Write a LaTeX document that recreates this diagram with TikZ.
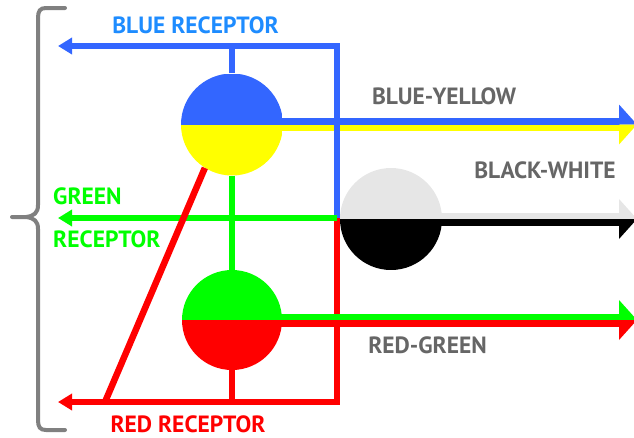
\documentclass[tikz,border=0pt]{standalone}
\usepackage{fontspec}
\setmainfont{PT Sans}
\usetikzlibrary{arrows.meta}
\definecolor{cblue}{RGB}{51,102,255}
\definecolor{tblue}{RGB}{30,140,255}
\definecolor{cgreen}{RGB}{0,255,0}
\definecolor{cred}{RGB}{255,0,0}
\definecolor{cyellow}{RGB}{255,255,0}
\definecolor{tgray}{RGB}{102,102,102}
\definecolor{lgray}{RGB}{230,230,230}
\definecolor{bgray}{RGB}{128,128,128}
\begin{document}
\begin{tikzpicture}[x=1pt,y=-1pt,
  wire/.style={line width=6.5pt},
  lefttip/.style={-{Triangle[length=14pt,width=16pt]}},
  halfdisc/.style n args={3}{circle, inner sep=0pt, minimum size=#3,
    path picture={
      \fill[#1] (path picture bounding box.north west) rectangle (path picture bounding box.east);
      \fill[#2] (path picture bounding box.west) rectangle (path picture bounding box.south east);}},
  lab/.style={font=\bfseries\fontsize{23.5}{23.5}\selectfont, inner sep=0pt},
  brace/.style={line width=4pt, bgray, line cap=round}]
\useasboundingbox (0,0) rectangle (634,437);
\clip (0,0) rectangle (634,437);

% key coordinates
\coordinate (bTL) at (58,46);
\coordinate (bTR) at (337,46);
\coordinate (gR) at (337,218);
\coordinate (gL) at (58,218);
\coordinate (rR) at (337,402);
\coordinate (rL) at (58,402);
\coordinate (dS) at (105,402);
\coordinate (byE) at (620,124.5);
\coordinate (bwE) at (620,219);
\coordinate (rgE) at (620,320);

% circle positions
\path (232,124.5) coordinate (BYc) (232,320) coordinate (RGc) (391,219) coordinate (BWc);

% blue-yellow outputs
\draw[wire,cblue] ([yshift=3.25pt]BYc) -- ([yshift=3.25pt]byE);
\draw[wire,cyellow] ([yshift=-3.25pt]BYc) -- ([yshift=-3.25pt]byE);

% blue receptor line
\draw[wire,cblue,lefttip] (gR) -- (bTR) -- (bTL);
% red receptor line
\draw[wire,cred,lefttip] (gR) -- (rR) -- (rL);
% green receptor line
\draw[wire,cgreen,lefttip] (gR) -- (gL);

% green-red outputs
\draw[wire,cgreen] ([yshift=3.25pt]RGc) -- ([yshift=3.25pt]rgE);
\draw[wire,cred] ([yshift=-3.25pt]RGc) -- ([yshift=-3.25pt]rgE);

% black-white outputs
\draw[wire,lgray] ([yshift=3.25pt]BWc) -- ([yshift=3.25pt]bwE);
\draw[wire,black] ([yshift=-3.25pt]BWc) -- ([yshift=-3.25pt]bwE);

% circles
\node[halfdisc={cblue}{cyellow}{102pt}] (BY) at (BYc) {};
\node[halfdisc={cgreen}{cred}{100pt}] (RG) at (RGc) {};
\node[halfdisc={lgray}{black}{102pt}] (BW) at (BWc) {};

% stems
\draw[wire,cblue] (BY.north) -- (BY.north |- bTR);
\draw[wire,cgreen] (BY.south) -- (RG.north);
\draw[wire,cred] (RG.south) -- (RG.south |- rR);
\draw[wire,cred] (dS) -- (BY.238);

% right arrowheads
\fill[cblue] (619,104.5) -- (637,124.5) -- (619,124.5) -- cycle;
\fill[cyellow] (619,124.5) -- (637,124.5) -- (619,144.5) -- cycle;
\fill[lgray] (619,199) -- (637,219) -- (619,219) -- cycle;
\fill[black] (619,219) -- (637,219) -- (619,239) -- cycle;
\fill[cgreen] (619,300) -- (637,320) -- (619,320) -- cycle;
\fill[cred] (619,320) -- (637,320) -- (619,340) -- cycle;

% brace
\draw[brace] (65,8) -- (46,8) .. controls (40,8) and (38,11) .. (38,18) -- (38,205)
  .. controls (38,213) and (34,216) .. (26,217) -- (12,217);
\draw[brace] (26,217) .. controls (34,218) and (38,221) .. (38,229) -- (38,420)
  .. controls (38,427) and (40,430) .. (46,430) -- (65,430);

% labels
\node[lab,text=tblue] (tB) at (195.5,25) {BLUE RECEPTOR};
\node[lab,text=cgreen,anchor=west] (tG1) at (53,196) {GREEN};
\node[lab,text=cgreen,anchor=west] (tG2) at (53,239.5) {RECEPTOR};
\node[lab,text=cred] (tR) at (188,424.5) {RED RECEPTOR};
\node[lab,text=tgray] (tBY) at (444,96.5) {BLUE-YELLOW};
\node[lab,text=tgray] (tBW) at (545,170) {BLACK-WHITE};
\node[lab,text=tgray] (tRG) at (427.5,345) {RED-GREEN};
\end{tikzpicture}
\end{document}
